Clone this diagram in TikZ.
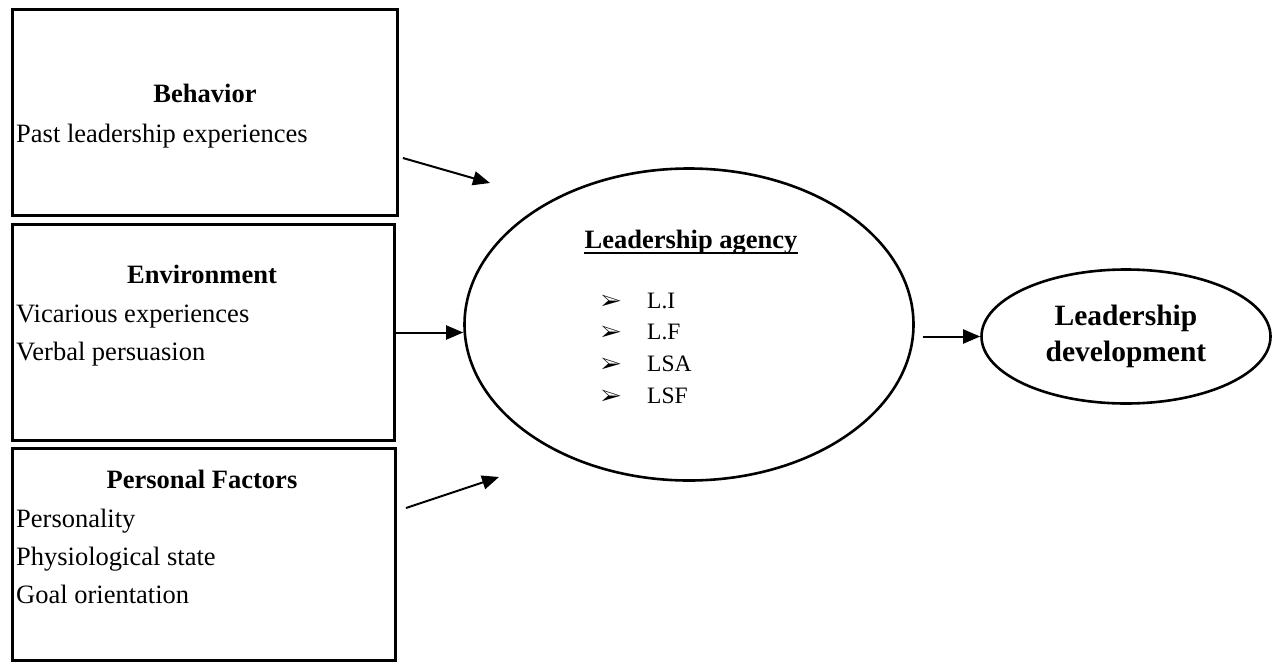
\documentclass[tikz,border=0pt]{standalone}
\usepackage{fontspec}
\usepackage{pifont}
\setmainfont{Liberation Serif}
\usetikzlibrary{shapes.geometric, arrows.meta, positioning}

\begin{document}
\begin{tikzpicture}[x=1pt, y=-1pt,
	factor/.style={shape=rectangle, draw=black, line width=2.8pt, inner sep=0pt},
	head/.style={font=\bfseries\fontsize{26.5}{38}\selectfont, anchor=base, inner sep=0pt},
	item/.style={font=\fontsize{26.5}{38}\selectfont, anchor=base west, inner sep=0pt},
	level/.style={font=\fontsize{23.5}{32}\selectfont, anchor=base west, inner sep=0pt},
	pointer/.style={font=\fontsize{22}{22}\selectfont, anchor=base west, inner sep=0pt},
	bubble/.style={shape=ellipse, draw=black, line width=2.6pt, inner sep=0pt},
	arrow/.style={line width=2pt, -{Triangle[length=17pt,width=14pt]}}]
	\useasboundingbox (0,0) rectangle (1279,664);

	% the three boxes on the left
	\node[factor, minimum width=385pt, minimum height=206pt] (beh) at (205, 112.5) {};
	\node[factor, minimum width=382pt, minimum height=216pt] (env) at (203.5, 332.5) {};
	\node[factor, minimum width=383pt, minimum height=212pt] (pers) at (204, 554.5) {};

	\node[head] (behh) at (205, 102) {Behavior};
	\node[item] (beh1) at (16, 142) {Past leadership experiences};

	\node[head] (envh) at (202, 283) {Environment};
	\node[item] (env1) at (16, 322) {Vicarious experiences};
	\node[item] (env2) at (16, 360) {Verbal persuasion};

	\node[head] (persh) at (202, 488) {Personal Factors};
	\node[item] (pers1) at (16, 527) {Personality};
	\node[item] (pers2) at (16, 565) {Physiological state};
	\node[item] (pers3) at (16, 603) {Goal orientation};

	% ellipses
	\node[bubble, minimum width=449pt, minimum height=312pt] (agency) at (689, 324.5) {};
	\node[bubble, minimum width=289pt, minimum height=134pt, align=center,
		font=\bfseries\fontsize{29.5}{36}\selectfont] (devel) at (1126, 336.5) {Leadership\\development};

	\node[head] (agtitle) at (691, 248) {Leadership agency};
	\draw[line width=2.2pt] ([yshift=-5pt]agtitle.base west) -- ([yshift=-5pt]agtitle.base east);

	\foreach \lbl [count=\i] in {L.I, L.F, LSA, LSF} {
		\node[pointer] (ptr\i) at (601, 276.5+31.7*\i) {\ding{226}};
		\node[level] (lev\i) at (647, 276.5+31.7*\i) {\lbl};
	}

	% arrows
	\coordinate (behend) at (490, 183);
	\coordinate (persend) at (499, 477);
	\draw[arrow] ([shift={(4,45.5)}]beh.east) -- (behend);
	\draw[arrow] (env.east) -- (env.east -| agency.west);
	\draw[arrow] ([shift={(9,-46.5)}]pers.east) -- (persend);
	\draw[arrow] (agency.east |- devel.west) ++(8,0) -- (devel.west);
\end{tikzpicture}
\end{document}
